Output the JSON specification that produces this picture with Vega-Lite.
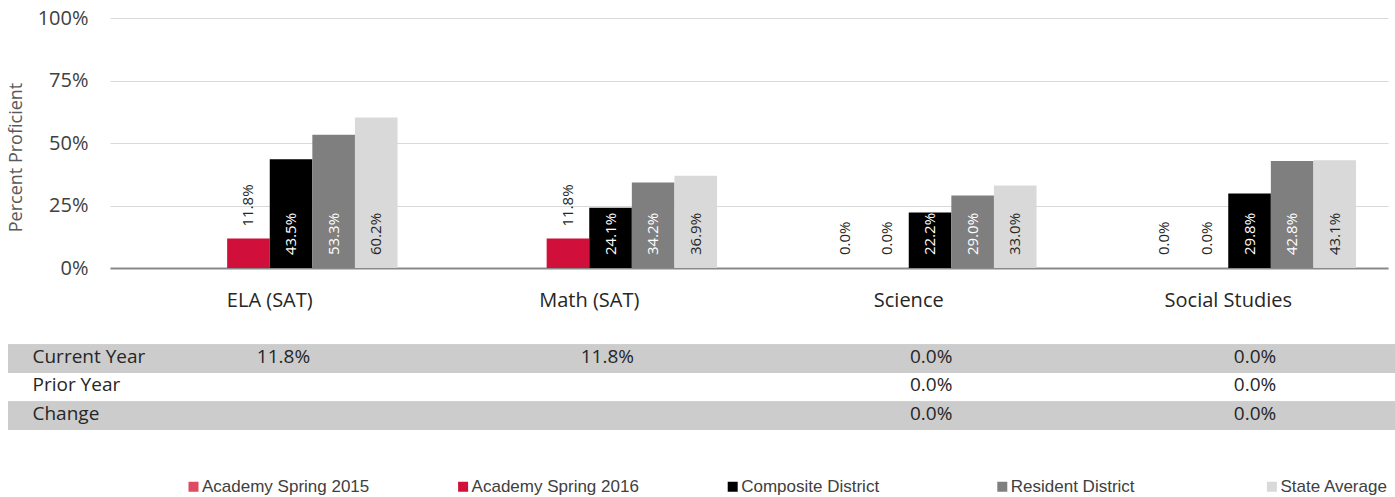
{
  "$schema": "https://vega.github.io/schema/vega-lite/v6.json",
  "padding": {"left": 6, "top": 8, "right": 0, "bottom": 0},
  "bounds": "flush",
  "spacing": 76.5,
  "config": {"view": {"stroke": null}, "font": "Open Sans"},
  "datasets": {
    "bars": [
      {"subject": "ELA (SAT)", "series": "Academy Spring 2016", "value": 0.118},
      {"subject": "ELA (SAT)", "series": "Composite District", "value": 0.435},
      {"subject": "ELA (SAT)", "series": "Resident District", "value": 0.533},
      {"subject": "ELA (SAT)", "series": "State Average", "value": 0.602},
      {"subject": "Math (SAT)", "series": "Academy Spring 2016", "value": 0.118},
      {"subject": "Math (SAT)", "series": "Composite District", "value": 0.241},
      {"subject": "Math (SAT)", "series": "Resident District", "value": 0.342},
      {"subject": "Math (SAT)", "series": "State Average", "value": 0.369},
      {"subject": "Science", "series": "Academy Spring 2015", "value": 0},
      {"subject": "Science", "series": "Academy Spring 2016", "value": 0},
      {"subject": "Science", "series": "Composite District", "value": 0.222},
      {"subject": "Science", "series": "Resident District", "value": 0.29},
      {"subject": "Science", "series": "State Average", "value": 0.33},
      {"subject": "Social Studies", "series": "Academy Spring 2015", "value": 0},
      {"subject": "Social Studies", "series": "Academy Spring 2016", "value": 0},
      {"subject": "Social Studies", "series": "Composite District", "value": 0.298},
      {"subject": "Social Studies", "series": "Resident District", "value": 0.428},
      {"subject": "Social Studies", "series": "State Average", "value": 0.431}
    ],
    "table": [
      {"row": "Current Year", "subject": "ELA (SAT)", "value": 0.118},
      {"row": "Current Year", "subject": "Math (SAT)", "value": 0.118},
      {"row": "Current Year", "subject": "Science", "value": 0},
      {"row": "Current Year", "subject": "Social Studies", "value": 0},
      {"row": "Prior Year", "subject": "ELA (SAT)", "value": null},
      {"row": "Prior Year", "subject": "Math (SAT)", "value": null},
      {"row": "Prior Year", "subject": "Science", "value": 0},
      {"row": "Prior Year", "subject": "Social Studies", "value": 0},
      {"row": "Change", "subject": "ELA (SAT)", "value": null},
      {"row": "Change", "subject": "Math (SAT)", "value": null},
      {"row": "Change", "subject": "Science", "value": 0},
      {"row": "Change", "subject": "Social Studies", "value": 0}
    ]
  },
  "vconcat": [
    {
      "width": 1387,
      "height": 250,
      "data": {"name": "bars"},
      "encoding": {
        "x": {
          "field": "subject", "type": "nominal",
          "sort": ["ELA (SAT)", "Math (SAT)", "Science", "Social Studies"],
          "scale": {"range": [102, 1380], "paddingInner": 0.2, "paddingOuter": 0.1},
          "axis": {"title": null, "domainColor": "#898989", "domainWidth": 2, "ticks": false, "tickSize": 0, "labelPadding": 22, "labelFontSize": 20, "labelColor": "#262626", "labelAngle": 0, "grid": false}
        },
        "xOffset": {
          "field": "series", "type": "nominal",
          "scale": {"domain": [" ", "Academy Spring 2015", "Academy Spring 2016", "Composite District", "Resident District", "State Average"], "paddingInner": 0, "paddingOuter": 0}
        }
      },
      "layer": [
        {
          "mark": {"type": "bar"},
          "encoding": {
            "y": {
              "field": "value", "type": "quantitative",
              "scale": {"domain": [0, 1]},
              "axis": {"values": [0, 0.25, 0.5, 0.75, 1], "format": ".0%", "title": "Percent Proficient", "offset": -102, "domain": false, "ticks": false, "tickSize": 0, "labelPadding": 22, "labelFontSize": 20, "labelColor": "#404040", "gridColor": "#d9d9d9", "titleX": -85, "titleY": 139, "titleFontSize": 18, "titleFontWeight": "normal", "titleColor": "#595959"}
            },
            "color": {
              "field": "series", "type": "nominal",
              "scale": {"domain": ["Academy Spring 2015", "Academy Spring 2016", "Composite District", "Resident District", "State Average"], "range": ["#DE4B63", "#D0103A", "#000000", "#7F7F7F", "#D9D9D9"]},
              "legend": {"title": null, "orient": "none", "legendX": 177, "legendY": 460, "direction": "horizontal", "columns": 5, "gridAlign": "all", "columnPadding": 84.6, "symbolType": "square", "symbolSize": 100, "symbolStrokeWidth": 0, "labelFont": "Liberation Sans", "labelFontSize": 17, "labelColor": "#404040", "labelOffset": 0, "labelLimit": 0}
            }
          }
        },
        {
          "transform": [{"filter": "datum.value > 0 && datum.value < 0.2"}],
          "mark": {"type": "text", "angle": 270, "align": "left", "baseline": "middle", "dx": 12, "fontSize": 15, "color": "#262626"},
          "encoding": {
            "y": {"field": "value", "type": "quantitative"},
            "text": {"field": "value", "type": "quantitative", "format": ".1%"}
          }
        },
        {
          "transform": [{"filter": "!(datum.value > 0 && datum.value < 0.2)"}],
          "mark": {"type": "text", "angle": 270, "align": "left", "baseline": "middle", "dx": 13, "fontSize": 15},
          "encoding": {
            "y": {"datum": 0, "type": "quantitative"},
            "text": {"field": "value", "type": "quantitative", "format": ".1%"},
            "color": {"condition": {"test": "datum.series === 'Composite District' || datum.series === 'Resident District'", "value": "#ffffff"}, "value": "#262626"}
          }
        }
      ]
    },
    {
      "width": 1387,
      "height": 85.5,
      "data": {"name": "table"},
      "encoding": {
        "y": {
          "field": "row", "type": "nominal",
          "sort": ["Current Year", "Prior Year", "Change"],
          "scale": {"paddingInner": 0, "paddingOuter": 0},
          "axis": {"title": null, "orient": "left", "offset": -24, "domain": false, "ticks": false, "tickSize": 0, "labelPadding": 0, "labelAlign": "left", "labelFontSize": 19, "labelColor": "#262626", "labelOffset": -2, "grid": false}
        }
      },
      "layer": [
        {
          "mark": {"type": "rect"},
          "encoding": {
            "fill": {"condition": {"test": "datum.row === 'Prior Year'", "value": "#ffffff"}, "value": "#cccccc"}
          }
        },
        {
          "transform": [{"filter": "isValid(datum.value)"}],
          "mark": {"type": "text", "fontSize": 19, "color": "#262626", "baseline": "middle", "dy": -2},
          "encoding": {
            "x": {"field": "subject", "type": "nominal", "sort": ["ELA (SAT)", "Math (SAT)", "Science", "Social Studies"], "scale": {"type": "point", "range": [275.5, 1247], "padding": 0}, "axis": null},
            "text": {"field": "value", "type": "quantitative", "format": ".1%"}
          }
        }
      ]
    }
  ]
}
